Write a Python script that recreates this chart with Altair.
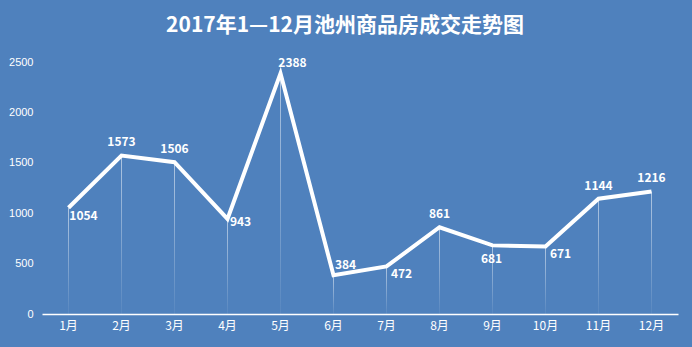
import altair as alt
import pandas as pd

months = ["1月", "2月", "3月", "4月", "5月", "6月", "7月", "8月", "9月", "10月", "11月", "12月"]
values = [1054, 1573, 1506, 943, 2388, 384, 472, 861, 681, 671, 1144, 1216]
placement = ["below-right", "above", "above", "right", "above-right", "above-right",
             "below-right", "above", "below", "below-right", "above", "above"]

df = pd.DataFrame({"month": months, "value": values, "place": placement})

BG = "#4F81BD"
FONT = "Noto Sans CJK SC"

x = alt.X("month:N", sort=months, title=None,
          scale=alt.Scale(paddingInner=0, paddingOuter=0),
          axis=alt.Axis(labelAngle=0, ticks=False, domainColor="white", domainWidth=1.5,
                        labelColor="white", labelFont=FONT, labelFontSize=12, labelPadding=6,
                        grid=False))
y = alt.Y("value:Q", title=None, scale=alt.Scale(domain=[0, 2500]),
          axis=alt.Axis(values=[0, 500, 1000, 1500, 2000, 2500], format="d", ticks=False,
                        domain=False, grid=False, labelColor="white", labelFont="Liberation Sans",
                        labelFontSize=11, labelPadding=9))

base = alt.Chart(df).encode(x=x)

drops = base.mark_bar(size=1, color=alt.Gradient(
    gradient="linear", x1=0, x2=0, y1=0, y2=1,
    stops=[alt.GradientStop(color="rgba(255,255,255,0.55)", offset=0),
           alt.GradientStop(color="rgba(255,255,255,0.05)", offset=1)])).encode(y=y)

line = base.mark_line(color="white", strokeWidth=4).encode(y=y)

offsets = {
    "above": (0, -13),
    "above-right": (12, -10),
    "right": (13, 3),
    "below-right": (15, 8),
    "below": (-1, 14),
}

labels = []
for p, (dx, dy) in offsets.items():
    labels.append(
        alt.Chart(df).transform_filter(alt.datum.place == p)
        .mark_text(color="white", font=FONT, fontSize=12, fontWeight="bold", dx=dx, dy=dy)
        .encode(x=alt.X("month:N", sort=months), y=alt.Y("value:Q"), text="value:Q")
    )

chart = alt.layer(drops, line, *labels).properties(
    width=636, height=262,
    autosize=alt.AutoSizeParams(type="none"),
    padding={"left": 42, "top": 52, "right": 14, "bottom": 33},
    background=BG,
    title=alt.TitleParams("2017年1—12月池州商品房成交走势图", color="white", font=FONT,
                          fontSize=21, fontWeight="bold", anchor="middle", offset=16, dx=-15),
).configure_view(stroke=None)

chart.save("out.html", embed_options={"renderer": "svg", "actions": False})
